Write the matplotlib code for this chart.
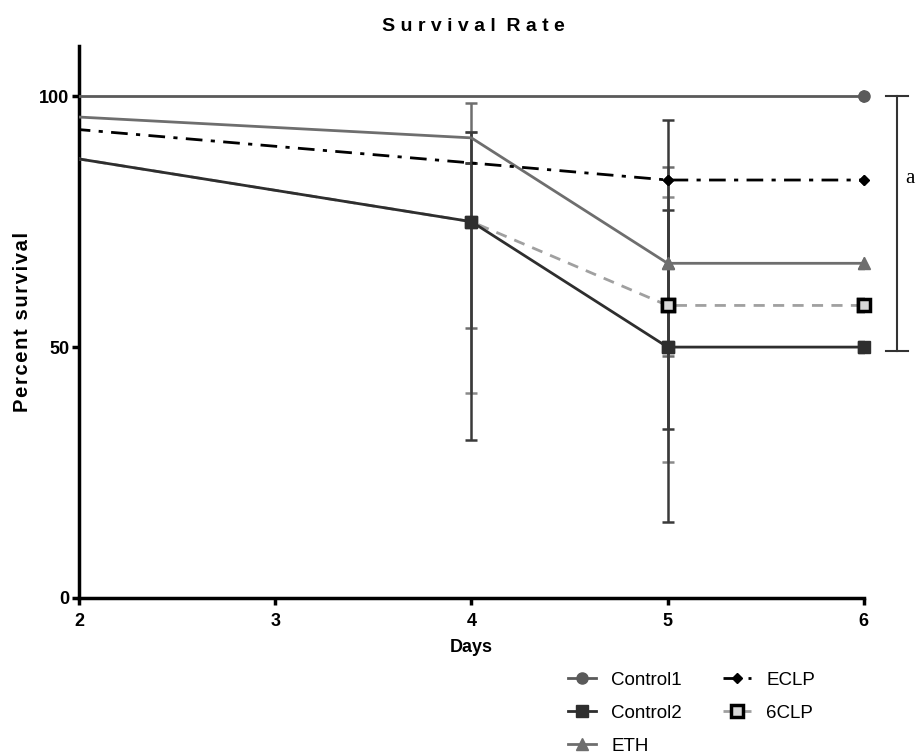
import matplotlib
matplotlib.use("Agg")
import matplotlib.pyplot as plt
import matplotlib.transforms as mtransforms
import numpy as np

# data (day 0 lies left of the visible range)
days = [0, 4, 5, 6]
control1 = [100, 100, 100, 100]
control2 = [100, 75, 50, 50]
eth = [100, 91.7, 66.7, 66.7]
eclp = [100, 86.7, 83.3, 83.3]
clp6 = [100, 75, 58.3, 58.3]

# error bar ends (upper, lower) at days 4 and 5
err_days = [4, 5]
control2_hi = [92.9, 77.4]
control2_lo = [31.5, 15.2]
eth_hi = [98.6, 85.8]
eth_lo = [53.8, 48.2]
clp6_hi = [92.9, 79.9]
clp6_lo = [40.8, 27.0]
eclp_hi = [86.7, 95.2]
eclp_lo = [86.7, 33.7]

bracket_top = 100
bracket_bottom = 49.2

plt.rcParams['font.family'] = ['Liberation Sans', 'DejaVu Sans']

fig = plt.figure(figsize=(9.2, 7.55), dpi=100)
ax = fig.add_axes([0.0859, 0.208, 0.853, 0.731])


def errbars(x, y, hi, lo, color, z):
    y = np.array(y)
    hi = np.array(hi)
    lo = np.array(lo)
    ax.errorbar(x, y, yerr=[y - lo, hi - y], fmt='none', ecolor=color,
                elinewidth=1.8, capsize=4, capthick=1.8, zorder=z)


def series(y, label, every, color, ls, marker, ms, mfc, mec, mew, z):
    ax.plot(days, y, color=color, lw=2, ls=ls, marker=marker, ms=ms,
            mfc=mfc, mec=mec, mew=mew, markevery=every, label=label, zorder=z)
    # markers again, unclipped so the ones at day 6 show whole
    xs = [days[i] for i in every]
    ys = [y[i] for i in every]
    ax.plot(xs, ys, ls='none', marker=marker, ms=ms, mfc=mfc, mec=mec,
            mew=mew, clip_on=False, zorder=z + 0.5)


def spaced(s, sep='\u200a'):
    return sep.join(s)


errbars(err_days, clp6[1:3], clp6_hi, clp6_lo, '#8a8a8a', 2)
errbars(err_days, eth[1:3], eth_hi, eth_lo, '#6e6e6e', 2)
errbars(err_days, eclp[1:3], eclp_hi, eclp_lo, '#3a3a3a', 2)
errbars(err_days, control2[1:3], control2_hi, control2_lo, '#3a3a3a', 2)

series(clp6, '6CLP', [2, 3], '#a0a0a0', (0, (4, 3)), 's', 9, '#d8d8d8',
       'black', 2.5, 3)
series(control2, 'Control2', [1, 2, 3], '#2e2e2e', '-', 's', 8, '#2e2e2e',
       '#2e2e2e', 1, 4)
series(eth, 'ETH', [2, 3], '#6e6e6e', '-', '^', 8, '#6e6e6e', '#6e6e6e', 1, 4)
series(eclp, 'ECLP', [2, 3], 'black', (0, (6, 3, 1.5, 3)), 'D', 5, 'black',
       'black', 1, 4)
series(control1, 'Control1', [3], '#5a5a5a', '-', 'o', 8, '#5a5a5a',
       '#5a5a5a', 1, 4)

ax.set_xlim(2, 6)
ax.set_ylim(0, 110)
ax.set_xticks([2, 3, 4, 5, 6])
ax.set_yticks([0, 50, 100])
ax.spines['top'].set_visible(False)
ax.spines['right'].set_visible(False)
ax.spines['left'].set_linewidth(2.5)
ax.spines['bottom'].set_linewidth(2.5)
ax.tick_params(width=2.5, length=5, labelsize=13)
ax.tick_params(axis='x', pad=6)
ax.tick_params(axis='y', pad=2)
for lab in ax.get_xticklabels() + ax.get_yticklabels():
    lab.set_fontweight('bold')

ax.set_xlabel('Days', fontsize=13, fontweight='bold', labelpad=6)
ax.set_ylabel(spaced('Percent survival'), fontsize=14.5, fontweight='bold',
              labelpad=5)
fig.text(0.515, 0.965, 'S u r v i v a l   R a t e'.replace('   ', '  '),
         ha='center', va='center', fontsize=14, fontweight='bold')

# significance bracket on the right
tr = mtransforms.blended_transform_factory(ax.transAxes, ax.transData)
ax.plot([1.042, 1.042], [bracket_top, bracket_bottom], color='#333333',
        lw=1.5, transform=tr, clip_on=False)
ax.plot([1.028, 1.056], [bracket_top, bracket_top], color='#333333',
        lw=1.5, transform=tr, clip_on=False)
ax.plot([1.028, 1.056], [bracket_bottom, bracket_bottom], color='#333333',
        lw=1.5, transform=tr, clip_on=False)
ax.text(1.053, (bracket_top + bracket_bottom) / 2 + 9, 'a', transform=tr,
        family=['Liberation Serif', 'DejaVu Serif'], fontsize=15,
        ha='left', va='center')

handles, labels = ax.get_legend_handles_labels()
order = ['Control1', 'Control2', 'ETH', 'ECLP', '6CLP']
hmap = dict(zip(labels, handles))
fig.legend([hmap[k] for k in order], order, ncol=2, frameon=False,
           loc='upper left', bbox_to_anchor=(0.599, 0.133), fontsize=13.5,
           handlelength=1.5, handletextpad=0.8, columnspacing=2.2,
           labelspacing=0.85)

fig.savefig('out.png', dpi=100)
